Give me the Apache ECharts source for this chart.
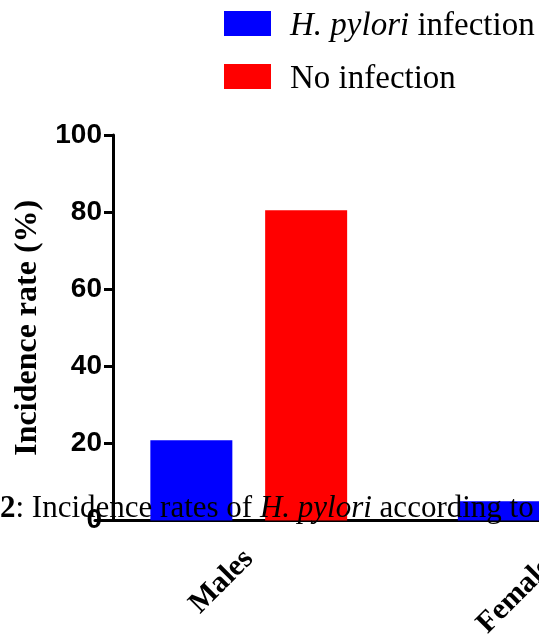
<!DOCTYPE html>
<html>
<head>
<meta charset="utf-8">
<script src="https://cdn.jsdelivr.net/npm/echarts@6/dist/echarts.min.js"></script>
<style>html,body{margin:0;padding:0;background:#fff}#c{width:539px;height:637px}</style>
</head>
<body>
<div id="c"></div>
<script>
var categories = ['Males', 'Females'];
var seriesNames = ['H. pylori infection', 'No infection'];
var infectionValues = [20.8, 5.0];
var noInfectionValues = [80.5, 95.0];
var yTicks = [0, 20, 40, 60, 80, 100];

var chart = echarts.init(document.getElementById('c'), null, {renderer: 'canvas'});
var serif = 'Liberation Serif, Times New Roman, serif';
var sans = 'Liberation Sans, Arial, sans-serif';
chart.setOption({
  animation: false,
  backgroundColor: '#fff',
  legend: {
    orient: 'vertical',
    left: 224, top: 8,
    padding: 0,
    itemWidth: 47, itemHeight: 25, itemGap: 18,
    icon: 'rect',
    data: seriesNames,
    formatter: function (name) {
      return name === 'H. pylori infection' ? '{i|H. pylori} infection' : name;
    },
    textStyle: {
      fontFamily: serif, fontSize: 33, color: '#000', lineHeight: 25,
      padding: [6, 0, 0, 14],
      rich: { i: { fontFamily: serif, fontSize: 33, fontStyle: 'italic', color: '#000', lineHeight: 25 } }
    }
  },
  grid: { left: 95, top: 135, width: 615, height: 385.5, outerBoundsMode: 'none' },
  xAxis: {
    type: 'category',
    data: categories,
    axisLine: { lineStyle: { color: '#000', width: 3 } },
    axisTick: { alignWithLabel: true, length: 11, lineStyle: { color: '#000', width: 3 } },
    axisLabel: { rotate: 45, margin: 34, fontFamily: serif, fontWeight: 'bold', fontSize: 30, color: '#000' }
  },
  yAxis: {
    type: 'value',
    min: yTicks[0], max: yTicks[yTicks.length - 1], interval: 20,
    offset: -18,
    name: 'Incidence rate (%)',
    nameLocation: 'middle',
    nameGap: 69,
    nameTextStyle: { fontFamily: serif, fontWeight: 'bold', fontSize: 32, color: '#000' },
    splitLine: { show: false },
    axisLine: { show: true, lineStyle: { color: '#000', width: 3 } },
    axisTick: { show: true, length: 9, lineStyle: { color: '#000', width: 3 } },
    axisLabel: { margin: 11, fontFamily: sans, fontWeight: 'bold', fontSize: 28, color: '#000' }
  },
  series: [
    { name: seriesNames[0], type: 'bar', data: infectionValues, barWidth: 82, barGap: '40%', itemStyle: { color: '#0000FF' } },
    { name: seriesNames[1], type: 'bar', data: noInfectionValues, barWidth: 82, barGap: '40%', itemStyle: { color: '#FF0000' } }
  ],
  graphic: [{
    type: 'text', left: 0, top: 493, z: 100, silent: true,
    style: {
      text: '{b|2}: Incidence rates of {i|H. pylori} according to gender',
      fontFamily: serif, fontSize: 31, fill: '#000',
      rich: {
        b: { fontFamily: serif, fontSize: 31, fontWeight: 'bold', color: '#000' },
        i: { fontFamily: serif, fontSize: 31, fontStyle: 'italic', color: '#000' }
      }
    }
  }]
});
</script>
</body>
</html>
